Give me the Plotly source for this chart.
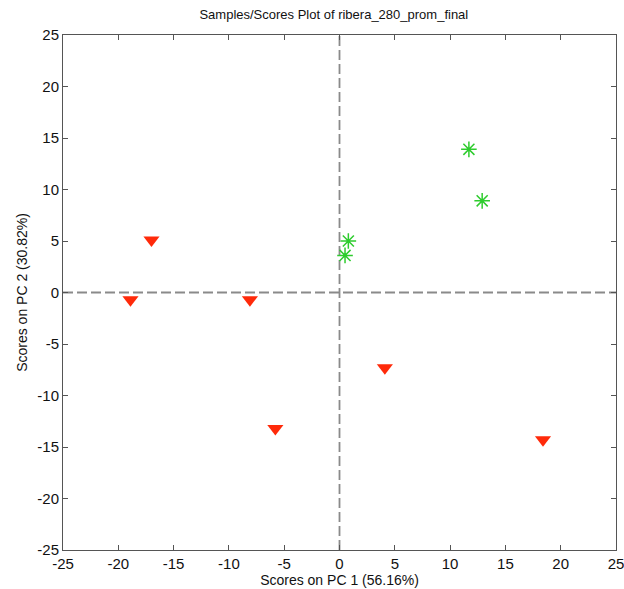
import plotly.graph_objects as go

# PCA scores for the two sample groups
class1_pc1 = [-17.0, -18.9, -8.1, -5.8, 4.1, 18.4]
class1_pc2 = [5.1, -0.7, -0.7, -13.2, -7.3, -14.3]

class2_pc1 = [11.7, 12.9, 0.8, 0.5]
class2_pc2 = [13.9, 8.9, 5.0, 3.6]

axis_range = [-25, 25]
tick_values = [-25, -20, -15, -10, -5, 0, 5, 10, 15, 20, 25]
tick_labels = ["-25", "-20", "-15", "-10", "-5", "0", "5", "10", "15", "20", "25"]

title_text = "Samples/Scores Plot of ribera_280_prom_final"
x_title = "Scores on PC 1 (56.16%)"
y_title = "Scores on PC 2 (30.82%)"

FONT = "Liberation Sans Narrow, Arial Narrow, Liberation Sans, Arial, sans-serif"

fig = go.Figure()

# dashed zero reference lines across the full axis span
fig.add_trace(go.Scatter(
    x=[0, 0], y=axis_range, mode="lines",
    line=dict(color="#8a8a8a", width=1.8, dash="10px,4px"),
    hoverinfo="skip", showlegend=False,
))
fig.add_trace(go.Scatter(
    x=axis_range, y=[0, 0], mode="lines",
    line=dict(color="#8a8a8a", width=1.8, dash="10px,4px"),
    hoverinfo="skip", showlegend=False,
))

fig.add_trace(go.Scatter(
    x=class1_pc1, y=class1_pc2, mode="markers",
    marker=dict(symbol="triangle-down", size=14, color="#ff2a0a",
                line=dict(width=0)),
    showlegend=False,
))
fig.add_trace(go.Scatter(
    x=class2_pc1, y=class2_pc2, mode="markers",
    marker=dict(symbol="asterisk-open", size=13, color="#2ecc2e",
                line=dict(color="#2ecc2e", width=1.5)),
    showlegend=False,
))

axis_common = dict(
    range=axis_range,
    tickvals=tick_values,
    ticktext=tick_labels,
    ticks="inside",
    ticklen=5,
    tickwidth=1,
    tickcolor="#555555",
    showline=True,
    linecolor="#555555",
    linewidth=1,
    mirror="ticks",
    showgrid=False,
    zeroline=False,
    automargin=False,
    ticklabeloverflow="allow",
    tickfont=dict(family=FONT, size=15, color="#111111"),
)

fig.update_layout(
    width=624,
    height=589,
    margin=dict(l=63, r=8, t=35, b=39),
    paper_bgcolor="white",
    plot_bgcolor="white",
    title=dict(
        text=title_text,
        x=0.535, xanchor="center",
        y=1 - 14 / 589, yanchor="middle",
        font=dict(family=FONT, size=13, color="#111111"),
    ),
    xaxis=dict(
        **axis_common,
        title=dict(text=x_title, standoff=2,
                   font=dict(family=FONT, size=14, color="#111111")),
    ),
    yaxis=dict(
        **axis_common,
        title=dict(text=y_title, standoff=6,
                   font=dict(family=FONT, size=14, color="#111111")),
    ),
)

fig.write_html("out.html")
